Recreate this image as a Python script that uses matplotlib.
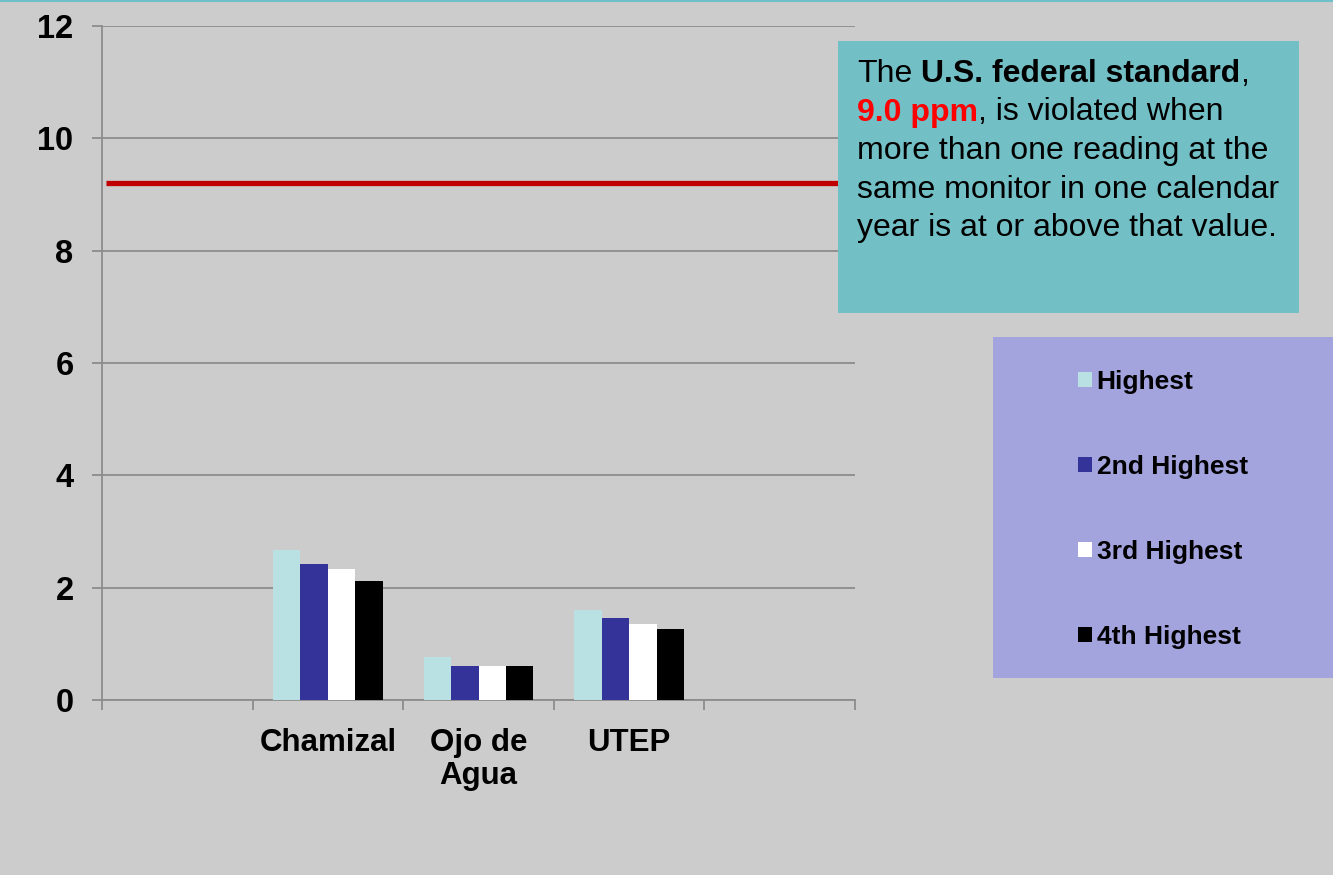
import matplotlib
matplotlib.use("Agg")
import matplotlib.pyplot as plt
from matplotlib.patches import Rectangle, Patch
from matplotlib.lines import Line2D
import numpy as np

# Data (CO, ppm)
categories = ["", "Chamizal", "Ojo de\nAgua", "UTEP", ""]
series_names = ["Highest", "2nd Highest", "3rd Highest", "4th Highest"]
highest = [2.67, 0.77, 1.61]
second = [2.43, 0.60, 1.46]
third = [2.33, 0.60, 1.36]
fourth = [2.11, 0.60, 1.27]
standard_line = 9.2
y_ticks = [0, 2, 4, 6, 8, 10, 12]

colors = ["#B9E0E3", "#333399", "#FFFFFF", "#000000"]
bg = "#CCCCCC"
grid_col = "#8C8C8C"

plt.rcParams["font.family"] = ["Liberation Sans", "DejaVu Sans"]

W, H = 1333, 875
fig = plt.figure(figsize=(W / 100, H / 100), dpi=100, facecolor=bg)
ax = fig.add_axes([102 / W, 1 - 700 / H, (855 - 102) / W, (700 - 26) / H])
ax.set_facecolor(bg)

# bars, one series at a time
x = np.arange(1, 4)
w = 0.1826
for i, vals in enumerate([highest, second, third, fourth]):
    ax.bar(x + (i - 1.5) * w, vals, width=w, color=colors[i], zorder=3,
           label=series_names[i])

# federal standard line
ax.hlines(standard_line, -0.475, 4.5, color="#C00000", lw=3.8, zorder=4)

ax.set_xlim(-0.5, 4.5)
ax.set_ylim(0, 12)
ax.set_yticks(y_ticks)
ax.set_yticklabels([str(v) for v in y_ticks], fontsize=23.5, fontweight="bold")
ax.yaxis.grid(True, color=grid_col, lw=1.3, zorder=0)
ax.tick_params(axis="y", length=7, width=1.3, color=grid_col, pad=13.5)

ax.set_xticks(range(len(categories)))
ax.set_xticklabels(categories, fontsize=22.5, fontweight="bold", linespacing=1.15)
ax.set_xticks(np.arange(-0.5, 5.0, 1.0), minor=True)
ax.tick_params(axis="x", which="major", length=0, pad=20)
ax.tick_params(axis="x", which="minor", length=7, width=1.3, color=grid_col)

for s in ["top", "right"]:
    ax.spines[s].set_visible(False)
for s in ["left", "bottom"]:
    ax.spines[s].set_color(grid_col)
    ax.spines[s].set_linewidth(1.3)

# thin teal line at the very top
fig.add_artist(Line2D([0, 1], [0.999, 0.999], transform=fig.transFigure,
                      color="#6FC1C9", lw=1.5))

# annotation box
fig.add_artist(Rectangle((838 / W, 1 - 313 / H), (1299 - 838) / W, (313 - 41) / H,
                         transform=fig.transFigure, facecolor="#72BFC5",
                         edgecolor="none", zorder=5))

fs = 23
space = 0.278 * fs  # width of a space, in points
lines = [
    [("The", "normal", "black", 0), ("U.S. federal standard", "bold", "black", space),
     (",", "normal", "black", 0)],
    [("9.0 ppm", "bold", "#FF0000", 0), (", is violated when", "normal", "black", 0)],
    [("more than one reading at the", "normal", "black", 0)],
    [("same monitor in one calendar", "normal", "black", 0)],
    [("year is at or above that value.", "normal", "black", 0)],
]
x0 = 857 / W
y0 = 82.0
step = 38.5
for k, segs in enumerate(lines):
    prev = None
    for txt, wt, col, gap in segs:
        if prev is None:
            prev = fig.text(x0, 1 - (y0 + k * step) / H, txt, fontsize=fs,
                            fontweight=wt, color=col, va="baseline", ha="left",
                            zorder=6)
        else:
            prev = fig.add_artist(plt.Annotation(
                txt, xy=(1, 0), xycoords=prev, xytext=(gap, 0),
                textcoords="offset points", fontsize=fs, fontweight=wt,
                color=col, va="bottom", ha="left", zorder=6))

# legend box
fig.add_artist(Rectangle((993 / W, 1 - 678 / H), (W - 993) / W + 0.01, (678 - 337) / H,
                         transform=fig.transFigure, facecolor="#A3A3DE",
                         edgecolor="none", zorder=5))
handles = [Patch(facecolor=c, edgecolor="none") for c in colors]
leg = fig.legend(handles, series_names, loc="upper left",
                 bbox_to_anchor=(1078 / W, 1 - 370 / H), frameon=False,
                 prop={"size": 19, "weight": "bold"}, handlelength=0.53,
                 handleheight=0.53, handletextpad=0.18, labelspacing=2.31,
                 borderpad=0, borderaxespad=0)
leg.set_zorder(6)

fig.savefig("out.png", dpi=100, facecolor=bg)
